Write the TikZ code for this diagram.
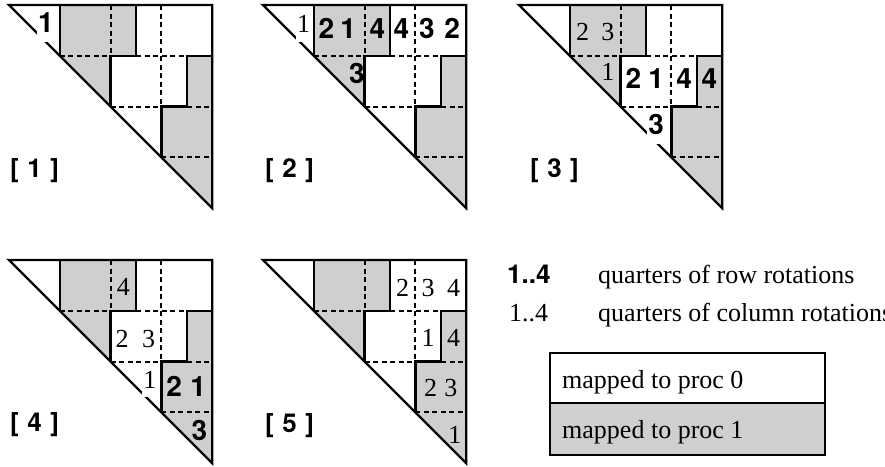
\documentclass[tikz,border=0pt]{standalone}
\usepackage{fontspec}
\setmainfont{Liberation Serif}
\newfontfamily\hvfont{TeX Gyre Heros}
\tikzset{
  solidln/.style={line width=2.3pt, line join=miter},
  outln/.style={line width=2.4pt, line join=miter},
  dashln/.style={line width=2pt, dash pattern=on 5pt off 3.5pt},
  grayfill/.style={fill=black!19},
  bnum/.style={font=\hvfont\bfseries\fontsize{28}{33}\selectfont, inner sep=0pt, anchor=base},
  tnum/.style={font=\fontsize{26}{31}\selectfont, inner sep=0pt, anchor=base},
  wbg/.style={fill=white, inner xsep=1.5pt, execute at begin node=\strut},
  plabel/.style={font=\hvfont\bfseries\fontsize{26}{31}\selectfont, inner sep=0pt, anchor=base west},
  legtext/.style={font=\fontsize{26}{31}\selectfont, inner sep=0pt, anchor=base west},
}
\newcommand\panelgrid{%
  \fill[grayfill] (2,0)--(5,0)--(5,2)--(4,2)--(4,4)--(2,2)--cycle;
  \fill[grayfill] (7,2)--(8,2)--(8,8)--(6,6)--(6,4)--(7,4)--cycle;
  \draw[dashln] (2,2)--(8,2) (4,4)--(8,4) (6,6)--(8,6) (4,0)--(4,2) (6,0)--(6,4);
  \draw[solidln] (2,0)--(2,2) (5,0)--(5,2)--(4,2)--(4,4) (8,2)--(7,2)--(7,4)--(6,4)--(6,6);
  \draw[outln] (0,0)--(8,0)--(8,8)--cycle;
}
\newcommand\plab[1]{[\hspace{8.5pt}#1\hspace{8.5pt}]}
\begin{document}
\begin{tikzpicture}[x=1pt,y=-1pt]
\useasboundingbox (0,0) rectangle (885,466);

% ---------- panel 1
\begin{scope}[shift={(9pt,-5pt)}, x=25.4pt, y=-25.4pt]
  \panelgrid
  \node[bnum,wbg] (p1a) at (1.45,1.08) {1};
  \node[plabel] (lab1) at (0.04,6.79) {\plab{1}};
\end{scope}

% ---------- panel 2
\begin{scope}[shift={(263pt,-5pt)}, x=25.4pt, y=-25.4pt]
  \panelgrid
  \node[tnum,wbg] (p2a) at (1.6,1.1) {1};
  \node[bnum] (p2b) at (2.5,1.32) {2};
  \node[bnum] (p2c) at (3.35,1.32) {1};
  \node[bnum] (p2d) at (4.5,1.32) {4};
  \node[bnum] (p2e) at (5.45,1.32) {4};
  \node[bnum] (p2f) at (6.45,1.32) {3};
  \node[bnum] (p2g) at (7.45,1.32) {2};
  \node[bnum] (p2h) at (3.7,3.08) {3};
  \node[plabel] (lab2) at (0.08,6.79) {\plab{2}};
\end{scope}

% ---------- panel 3
\begin{scope}[shift={(519pt,-5pt)}, x=25.4pt, y=-25.4pt]
  \panelgrid
  \node[tnum] (p3a) at (2.5,1.4) {2};
  \node[tnum] (p3b) at (3.5,1.4) {3};
  \node[tnum] (p3c) at (3.5,2.97) {1};
  \node[bnum] (p3d) at (4.5,3.3) {2};
  \node[bnum] (p3e) at (5.4,3.3) {1};
  \node[bnum] (p3f) at (6.5,3.3) {4};
  \node[bnum] (p3g) at (7.5,3.3) {4};
  \node[bnum,wbg] (p3h) at (5.4,5.08) {3};
  \node[plabel] (lab3) at (0.43,6.79) {\plab{3}};
\end{scope}

% ---------- panel 4
\begin{scope}[shift={(9pt,-260pt)}, x=25.4pt, y=-25.4pt]
  \panelgrid
  \node[tnum] (p4a) at (4.5,1.38) {4};
  \node[tnum] (p4b) at (4.45,3.44) {2};
  \node[tnum] (p4c) at (5.5,3.44) {3};
  \node[tnum,wbg] (p4d) at (5.55,5.04) {1};
  \node[bnum] (p4e) at (6.5,5.38) {2};
  \node[bnum] (p4f) at (7.45,5.38) {1};
  \node[bnum] (p4g) at (7.5,7.12) {3};
  \node[plabel] (lab4) at (0.04,6.77) {\plab{4}};
\end{scope}

% ---------- panel 5
\begin{scope}[shift={(263pt,-260pt)}, x=25.4pt, y=-25.4pt]
  \panelgrid
  \node[tnum] (p5a) at (5.5,1.43) {2};
  \node[tnum] (p5b) at (6.5,1.43) {3};
  \node[tnum] (p5c) at (7.5,1.43) {4};
  \node[tnum] (p5d) at (6.5,3.4) {1};
  \node[tnum] (p5e) at (7.5,3.4) {4};
  \node[tnum] (p5f) at (6.6,5.37) {2};
  \node[tnum] (p5g) at (7.4,5.37) {3};
  \node[tnum] (p5h) at (7.55,7.22) {1};
  \node[plabel] (lab5) at (0.08,6.79) {\plab{5}};
\end{scope}

% ---------- legend
\node[plabel] (lg1) at (507,283) {1..4};
\node[legtext] (lg1t) at (598,283) {quarters of row rotations};
\node[legtext] (lg2) at (509,321) {1..4};
\node[legtext] (lg2t) at (598,321) {quarters of column rotations};

\fill[grayfill] (550,403) rectangle (825,455);
\draw[solidln] (550,353) rectangle (825,455);
\draw[solidln] (550,403) -- (825,403);
\node[legtext] (lb0) at (562,388) {mapped to proc 0};
\node[legtext] (lb1) at (562,438) {mapped to proc 1};
\end{tikzpicture}
\end{document}
